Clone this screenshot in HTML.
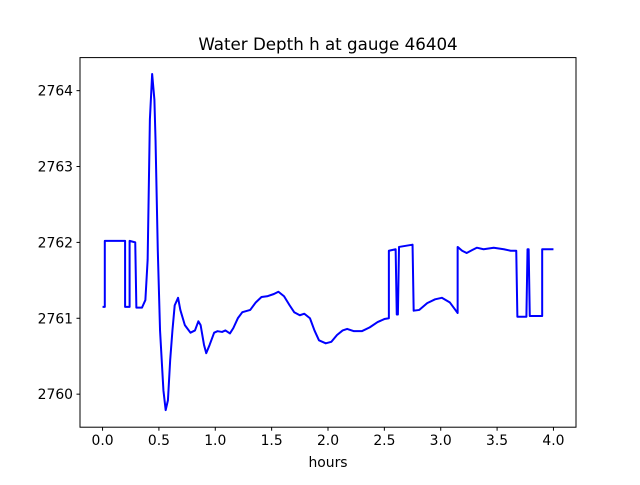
<!DOCTYPE html>
<html><head><meta charset="utf-8"><style>
body{margin:0;background:#fff;}
svg text{font-family:"DejaVu Sans","Liberation Sans",sans-serif;fill:#000;}
</style></head><body>
<svg id="chart" width="640" height="480" viewBox="0 0 640 480" xmlns="http://www.w3.org/2000/svg">
<rect width="640" height="480" fill="#fff"/>
<text x="328" y="50" font-size="16.7" text-anchor="middle">Water Depth h at gauge 46404</text>
<g id="ticks"></g>
<path id="line" fill="none" stroke="#0000ff" stroke-width="2" stroke-linejoin="round"/>
<rect x="80" y="57.6" width="496" height="369.6" fill="none" stroke="#000" stroke-width="1"/>
<text x="328" y="467" font-size="13.9" text-anchor="middle">hours</text>
</svg>
<script>
const hours=[0.00,0.02,0.02,0.20,0.20,0.24,0.24,0.29,0.30,0.35,0.38,0.40,0.42,0.44,0.46,0.47,0.49,0.51,0.54,0.56,0.58,0.60,0.62,0.64,0.67,0.69,0.73,0.78,0.82,0.85,0.87,0.90,0.92,0.95,0.99,1.02,1.06,1.09,1.13,1.16,1.20,1.24,1.31,1.36,1.41,1.46,1.52,1.56,1.61,1.66,1.70,1.75,1.79,1.84,1.88,1.92,1.98,2.03,2.08,2.13,2.17,2.23,2.30,2.37,2.44,2.50,2.54,2.54,2.60,2.61,2.62,2.63,2.75,2.76,2.81,2.88,2.95,3.01,3.08,3.13,3.15,3.15,3.19,3.23,3.28,3.32,3.38,3.47,3.56,3.62,3.67,3.68,3.76,3.77,3.78,3.79,3.90,3.90,4.00];
const depth=[2761.15,2761.15,2762.02,2762.02,2761.15,2761.15,2762.02,2762.00,2761.14,2761.14,2761.24,2761.77,2763.62,2764.22,2763.88,2763.35,2761.90,2760.84,2760.05,2759.79,2759.92,2760.45,2760.84,2761.17,2761.27,2761.11,2760.91,2760.81,2760.84,2760.96,2760.91,2760.65,2760.54,2760.65,2760.81,2760.83,2760.82,2760.84,2760.80,2760.87,2761.00,2761.08,2761.11,2761.21,2761.28,2761.29,2761.32,2761.35,2761.29,2761.17,2761.08,2761.04,2761.06,2761.00,2760.84,2760.71,2760.67,2760.69,2760.78,2760.84,2760.86,2760.83,2760.83,2760.88,2760.95,2760.99,2761.00,2761.89,2761.91,2761.05,2761.05,2761.94,2761.97,2761.10,2761.11,2761.20,2761.25,2761.27,2761.21,2761.11,2761.07,2761.94,2761.89,2761.86,2761.90,2761.93,2761.91,2761.93,2761.91,2761.89,2761.89,2761.02,2761.02,2761.91,2761.91,2761.03,2761.03,2761.91,2761.91];
const xTicks=[0,0.5,1,1.5,2,2.5,3,3.5,4];
const xTickLabels=["0.0","0.5","1.0","1.5","2.0","2.5","3.0","3.5","4.0"];
const yTicks=[2760,2761,2762,2763,2764];
const yTickLabels=["2760","2761","2762","2763","2764"];
const L=80,R=576,T=57.6,B=427.2;
const xmin=-0.2,xmax=4.2,ymin=2759.5645,ymax=2764.4355;
const xs=v=>L+(v-xmin)/(xmax-xmin)*(R-L);
const ys=v=>B-(v-ymin)/(ymax-ymin)*(B-T);
const NS="http://www.w3.org/2000/svg";
let d="";
hours.forEach((h,i)=>{d+=(i?"L":"M")+xs(h).toFixed(2)+","+ys(depth[i]).toFixed(2);});
document.getElementById("line").setAttribute("d",d);
const g=document.getElementById("ticks");
xTicks.forEach((t,i)=>{
  const x=xs(t);
  const ln=document.createElementNS(NS,"line");
  ln.setAttribute("x1",x);ln.setAttribute("x2",x);ln.setAttribute("y1",B);ln.setAttribute("y2",B+3.5);ln.setAttribute("stroke","#000");
  
  
  g.appendChild(ln);
  const tx=document.createElementNS(NS,"text");
  tx.setAttribute("x",x);tx.setAttribute("y",B+18);tx.setAttribute("font-size","13.9");tx.setAttribute("text-anchor","middle");
  tx.textContent=xTickLabels[i];
  
  
  g.appendChild(tx);
});
yTicks.forEach((t,i)=>{
  const y=ys(t);
  const ln=document.createElementNS(NS,"line");
  ln.setAttribute("x1",L-3.5);ln.setAttribute("x2",L);ln.setAttribute("y1",y);ln.setAttribute("y2",y);ln.setAttribute("stroke","#000");
  
  
  g.appendChild(ln);
  const tx=document.createElementNS(NS,"text");
  tx.setAttribute("x",L-7);tx.setAttribute("y",y+5);tx.setAttribute("font-size","13.9");tx.setAttribute("text-anchor","end");
  tx.textContent=yTickLabels[i];
  
  
  g.appendChild(tx);
});
</script>
</body></html>
